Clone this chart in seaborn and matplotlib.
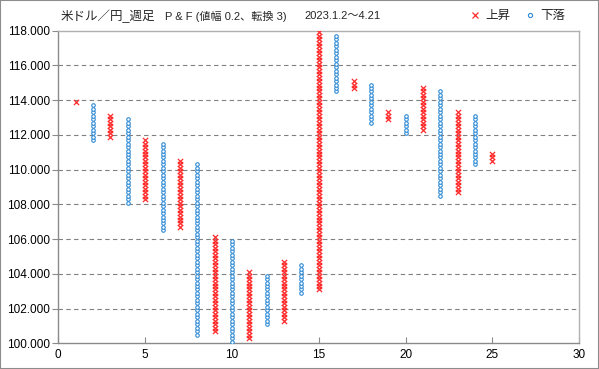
import numpy as np
import pandas as pd
import matplotlib
matplotlib.use("Agg")
import matplotlib.pyplot as plt
from matplotlib.ticker import FormatStrFormatter
from matplotlib.lines import Line2D
from matplotlib.patches import Rectangle
import seaborn as sns

# ---- data (P&F columns: low / high box of each column) ----
columns = list(range(1, 26))
kinds = ["上昇", "下落"] * 12 + ["上昇"]
col_low = [113.9, 111.7, 111.9, 108.1, 108.3, 106.5, 106.7, 100.5, 100.7, 100.1,
           100.3, 101.1, 101.3, 102.9, 103.1, 114.5, 114.7, 112.7, 112.9, 112.1,
           112.3, 108.5, 108.7, 110.3, 110.5]
col_high = [113.9, 113.7, 113.1, 112.9, 111.7, 111.5, 110.5, 110.3, 106.1, 105.9,
            104.1, 103.9, 104.7, 104.5, 117.9, 117.7, 115.1, 114.9, 113.3, 113.1,
            114.7, 114.5, 113.3, 113.1, 110.9]
box_size = 0.2
y_ticks = [100, 102, 104, 106, 108, 110, 112, 114, 116, 118]
x_ticks = [0, 5, 10, 15, 20, 25, 30]
title_main = "米ドル／円_週足"
title_sub = "P & F (値幅 0.2、転換 3)"
title_date = "2023.1.2～4.21"

rows = []
for c, k, lo, hi in zip(columns, kinds, col_low, col_high):
    n = int(round((hi - lo) / box_size)) + 1
    for i in range(n):
        rows.append({"col": c, "price": lo + i * box_size, "kind": k})
df = pd.DataFrame(rows)

sns.set_theme(style="white")
plt.rcParams["font.family"] = ["Liberation Sans", "Noto Sans CJK JP", "DejaVu Sans"]

RED = "#FF2B2B"
BLUE = "#2F8BD6"

fig = plt.figure(figsize=(5.99, 3.69), dpi=100)
ax = fig.add_axes([58.3 / 599, 1 - 343.3 / 369, (579.3 - 58.3) / 599, (343.3 - 30.7) / 369])

up = df[df["kind"] == "上昇"]
dn = df[df["kind"] == "下落"]
sns.scatterplot(data=up, x="col", y="price", marker="x", color=RED, s=14,
                linewidth=0.9, ax=ax, zorder=3, legend=False)
sns.scatterplot(data=dn, x="col", y="price", marker="o", facecolor="white",
                edgecolor=BLUE, s=6.5, linewidth=0.8, ax=ax, zorder=3, legend=False)

ax.set_xlim(0, 30)
ax.set_ylim(100, 118)
ax.set_xticks(x_ticks)
ax.set_yticks(y_ticks)
ax.yaxis.set_major_formatter(FormatStrFormatter("%.3f"))
ax.set_xlabel("")
ax.set_ylabel("")

for y in y_ticks[1:-1]:
    ax.axhline(y, color="#808080", lw=0.8, ls=(0, (4, 3)), zorder=1)

for s in ["left", "bottom"]:
    ax.spines[s].set_color("#8a8a8a")
    ax.spines[s].set_linewidth(1.0)
for s in ["top", "right"]:
    ax.spines[s].set_color("#b0b0b0")
    ax.spines[s].set_linewidth(1.0)

ax.tick_params(axis="y", direction="out", length=4, width=0.8, color="#8a8a8a",
               labelsize=8.5, pad=2, labelcolor="black", left=True)
ax.tick_params(axis="x", direction="in", length=4, width=0.8, color="#8a8a8a",
               labelsize=8.5, pad=4, labelcolor="black", bottom=True)

# titles
fig.text(61 / 599, 1 - 16 / 369, title_main, fontsize=9, va="center", ha="left")
fig.text(165 / 599, 1 - 16 / 369, title_sub, fontsize=8, va="center", ha="left")
fig.text(304 / 599, 1 - 16 / 369, title_date, fontsize=8, va="center", ha="left")

# legend
handles = [Line2D([], [], marker="x", color=RED, ls="", markersize=4.5, mew=0.9),
           Line2D([], [], marker="o", markerfacecolor="white", markeredgecolor=BLUE,
                  ls="", markersize=3.0, mew=0.8)]
fig.legend(handles, ["上昇", "下落"], ncol=2, loc="center left",
           bbox_to_anchor=(469 / 599, 1 - 16 / 369), frameon=False,
           handlelength=1.0, handletextpad=0.3, columnspacing=1.1,
           fontsize=9, borderpad=0, borderaxespad=0)

fig.patches.append(Rectangle((0, 0), 1, 1, transform=fig.transFigure, fill=False,
                             edgecolor="#8c8c8c", linewidth=1.5, zorder=10))

fig.savefig("out.png", dpi=100)
